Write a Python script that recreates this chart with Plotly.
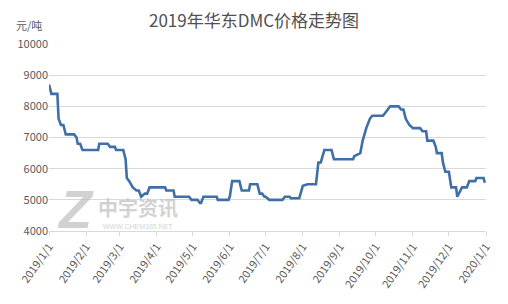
import plotly.graph_objects as go

dates = ["2019-01-01","2019-01-03","2019-01-08","2019-01-09","2019-01-11","2019-01-13","2019-01-15","2019-01-22",
         "2019-01-24","2019-01-25","2019-01-27","2019-01-29","2019-02-11","2019-02-12","2019-02-19","2019-02-21",
         "2019-02-25","2019-02-26","2019-03-04","2019-03-06","2019-03-07","2019-03-09","2019-03-12","2019-03-15",
         "2019-03-17","2019-03-19","2019-03-22","2019-03-24","2019-03-26","2019-04-08","2019-04-09","2019-04-15",
         "2019-04-16","2019-04-28","2019-04-30","2019-05-05","2019-05-07","2019-05-08","2019-05-10","2019-05-21",
         "2019-05-22","2019-05-31","2019-06-01","2019-06-03","2019-06-09","2019-06-11","2019-06-17","2019-06-18",
         "2019-06-24","2019-06-26","2019-06-28","2019-06-30","2019-07-01","2019-07-04","2019-07-15","2019-07-17",
         "2019-07-21","2019-07-22","2019-07-29","2019-08-01","2019-08-05","2019-08-12","2019-08-14","2019-08-16",
         "2019-08-19","2019-08-25","2019-08-27","2019-09-12","2019-09-13","2019-09-18","2019-09-20","2019-09-23",
         "2019-09-26","2019-09-28","2019-10-07","2019-10-09","2019-10-13","2019-10-20","2019-10-22","2019-10-24",
         "2019-10-26","2019-10-29","2019-11-01","2019-11-07","2019-11-09","2019-11-12","2019-11-13","2019-11-18",
         "2019-11-20","2019-11-21","2019-11-25","2019-11-26","2019-11-28","2019-12-01","2019-12-03","2019-12-07",
         "2019-12-08","2019-12-12","2019-12-16","2019-12-18","2019-12-23","2019-12-24","2019-12-30","2019-12-31"]
prices = [8700,8400,8400,7600,7400,7400,7100,7100,
          7000,6800,6800,6600,6600,6800,6800,6700,
          6700,6600,6600,6300,5700,5600,5400,5300,
          5300,5100,5200,5200,5400,5400,5300,5300,
          5100,5100,5000,5000,4900,4900,5100,5100,
          5000,5000,5100,5600,5600,5300,5300,5500,
          5500,5200,5200,5100,5100,5000,5000,5100,
          5100,5050,5050,5450,5500,5500,6200,6200,
          6600,6600,6300,6300,6400,6500,6900,7300,
          7600,7700,7700,7800,8000,8000,7900,7900,
          7600,7400,7300,7300,7200,7200,6900,6900,
          6700,6500,6500,6200,5900,5900,5400,5400,
          5100,5400,5400,5600,5600,5700,5700,5550]

tick_dates = ["2019-01-01","2019-02-01","2019-03-01","2019-04-01","2019-05-01","2019-06-01","2019-07-01",
              "2019-08-01","2019-09-01","2019-10-01","2019-11-01","2019-12-01","2020-01-01"]
tick_labels = ["2019/1/1","2019/2/1","2019/3/1","2019/4/1","2019/5/1","2019/6/1","2019/7/1",
               "2019/8/1","2019/9/1","2019/10/1","2019/11/1","2019/12/1","2020/1/1"]
y_ticks = [4000,5000,6000,7000,8000,9000,10000]
y_labels = ["4000","5000","6000","7000","8000","9000","10000"]

FONT = "Noto Sans CJK SC, Noto Sans, sans-serif"
WM = "rgba(190,190,190,0.7)"

fig = go.Figure()
fig.add_trace(go.Scatter(x=dates, y=prices, mode="lines",
                         line=dict(color="#3f6fa6", width=2.6), hoverinfo="skip"))

# watermark
fig.add_annotation(text="<b><i>Z</i></b>", xref="paper", yref="paper", x=0.06, y=0.115,
                   xanchor="center", yanchor="middle",
                   showarrow=False, font=dict(size=54, color=WM, family="Arial Black, Arial"))
fig.add_annotation(text="<b>中宇资讯</b>", xref="paper", yref="paper", x=0.204, y=0.125,
                   xanchor="center", yanchor="middle",
                   showarrow=False, font=dict(size=20, color=WM, family=FONT))
fig.add_annotation(text="WWW.CHEM365.NET", xref="paper", yref="paper", x=0.204, y=0.025,
                   xanchor="center", yanchor="middle",
                   showarrow=False, font=dict(size=7, color=WM, family="Arial"))

fig.add_annotation(text="元/吨", xref="paper", yref="paper", x=-0.045, y=1.1, xanchor="center",
                   yanchor="middle", showarrow=False, font=dict(size=11, color="#595959", family=FONT))

fig.update_layout(
    width=508, height=304,
    margin=dict(l=49, r=22, t=44, b=73),
    paper_bgcolor="white", plot_bgcolor="white",
    showlegend=False,
    title=dict(text="2019年华东DMC价格走势图", x=0.5, xanchor="center", y=0.93, yanchor="middle",
               font=dict(size=17, color="#505050", family=FONT)),
    xaxis=dict(range=["2019-01-01", "2020-01-01"], tickvals=tick_dates, ticktext=tick_labels,
               tickangle=-55, showgrid=False, showline=True, linecolor="#d9d9d9", linewidth=1,
               ticks="outside", ticklen=4, tickcolor="#d9d9d9",
               tickfont=dict(size=11, color="#595959", family=FONT), zeroline=False),
    yaxis=dict(range=[4000, 10000], tickvals=y_ticks, ticktext=y_labels, showgrid=True,
               gridcolor="#d9d9d9", gridwidth=1,
               zeroline=False, showline=False, ticks="",
               tickfont=dict(size=11, color="#595959", family=FONT)),
)

fig.write_html("out.html")
